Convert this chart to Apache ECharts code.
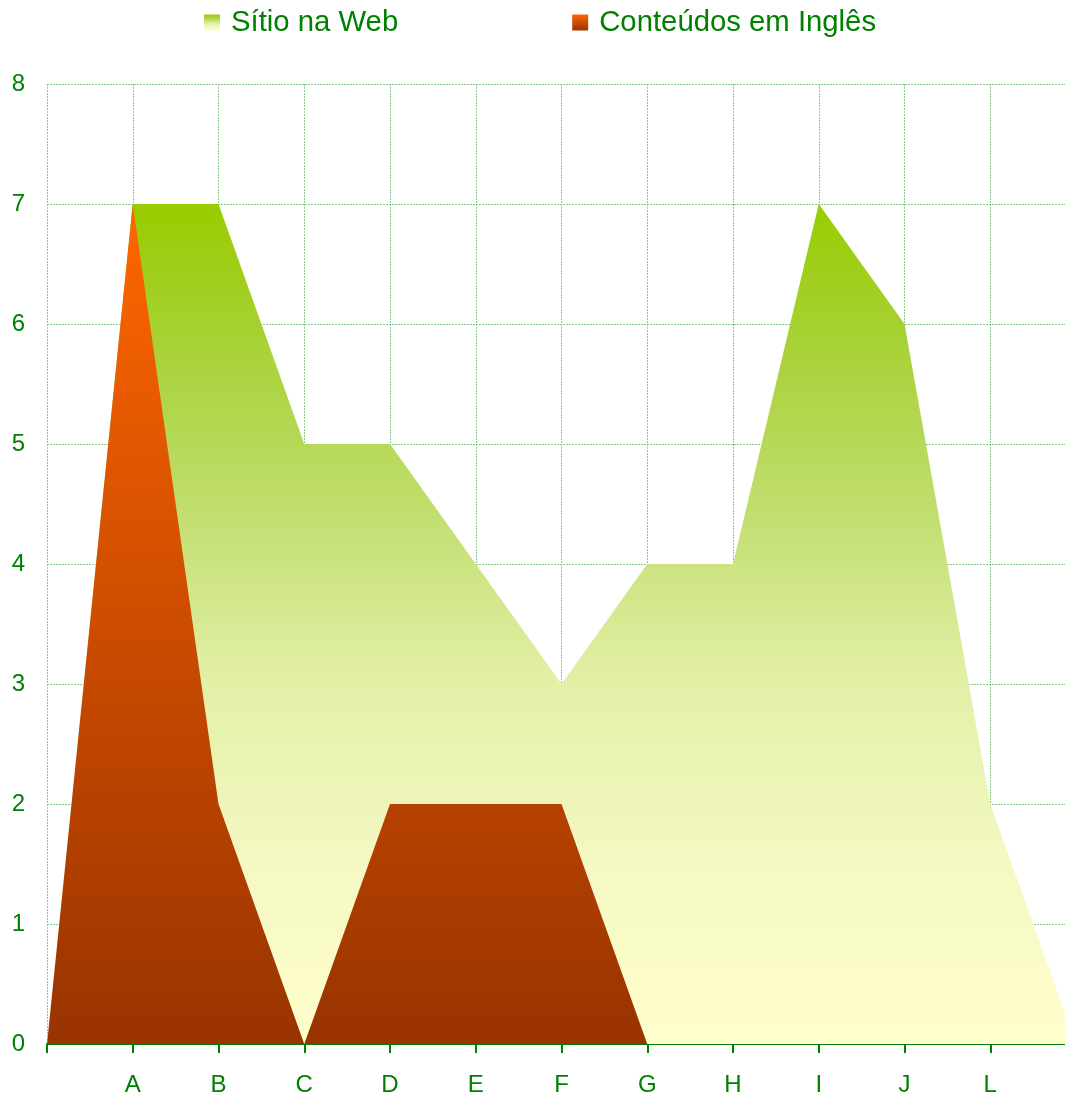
<!DOCTYPE html>
<html><head><meta charset="utf-8">
<script src="https://cdn.jsdelivr.net/npm/echarts@6/dist/echarts.min.js"></script>
<style>html,body{margin:0;padding:0;background:#fff;overflow:hidden}#c{width:1076px;height:1098px}</style>
</head><body><div id="c"></div>
<script>
const categories = ["", "A", "B", "C", "D", "E", "F", "G", "H", "I", "J", "L", ""];
const sitioWeb = [0, 7, 7, 5, 5, 4, 3, 4, 4, 7, 6, 2, 0];
const conteudosIngles = [0, 7, 2, 0, 2, 2, 2, 0, 0, 0, 0, 0, 0];
const yTicks = [0, 1, 2, 3, 4, 5, 6, 7, 8];

const txt = '#008000';
const gridCol = '#88c888';
const font = '"Liberation Sans", Arial, sans-serif';
const greenGrad = new echarts.graphic.LinearGradient(0, 0, 0, 1, [
  {offset: 0, color: '#99cc00'},
  {offset: 0.157, color: '#a6d133'},
  {offset: 0.357, color: '#c0dd6c'},
  {offset: 0.571, color: '#e3f0a8'},
  {offset: 0.786, color: '#f5f8c2'},
  {offset: 1, color: '#ffffcc'}]);
const orangeGrad = new echarts.graphic.LinearGradient(0, 0, 0, 1, [{offset: 0, color: '#ff6600'}, {offset: 1, color: '#993300'}]);

const chart = echarts.init(document.getElementById('c'), null, {renderer: 'canvas'});
chart.setOption({
  animation: false,
  legend: {
    left: 199, top: 3,
    icon: 'rect', itemWidth: 16, itemHeight: 16, itemGap: 174,
    textStyle: {color: txt, fontSize: 29.3, fontFamily: font, padding: [0, 0, 0, 6]},
    data: ['Sítio na Web', 'Conteúdos em Inglês']
  },
  grid: {left: 47, right: 0, top: 84, bottom: 54, containLabel: false, outerBoundsMode: 'none'},
  xAxis: {
    type: 'category', data: categories, boundaryGap: false,
    axisLine: {show: true, lineStyle: {color: txt, width: 2}},
    axisTick: {show: true, length: 9, lineStyle: {color: txt, width: 2}},
    axisLabel: {color: txt, fontSize: 24, fontFamily: font, margin: 29},
    splitLine: {show: true, lineStyle: {color: gridCol, type: [2, 1], width: 1}}
  },
  yAxis: {
    type: 'value', min: 0, max: 8, interval: 1,
    axisLine: {show: false}, axisTick: {show: false},
    axisLabel: {color: txt, fontSize: 24, fontFamily: font, margin: 22,
      formatter: v => yTicks.includes(v) ? String(v) : ''},
    splitLine: {show: true, lineStyle: {color: gridCol, type: [2, 1], width: 1}}
  },
  series: [
    {name: 'Sítio na Web', type: 'line', data: sitioWeb, symbol: 'none',
     lineStyle: {width: 0}, itemStyle: {color: greenGrad}, areaStyle: {color: greenGrad, opacity: 1}, z: 2},
    {name: 'Conteúdos em Inglês', type: 'line', data: conteudosIngles, symbol: 'none',
     lineStyle: {width: 0}, itemStyle: {color: orangeGrad}, areaStyle: {color: orangeGrad, opacity: 1}, z: 3}
  ]
});
</script></body></html>
